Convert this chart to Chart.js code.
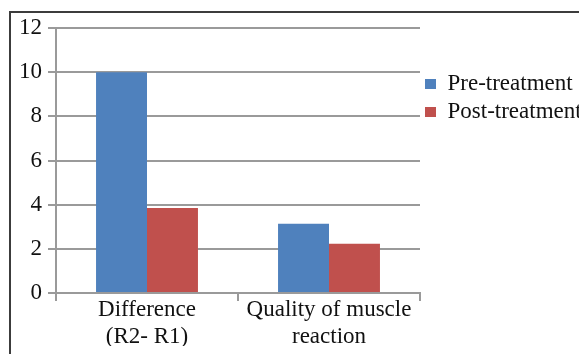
<!DOCTYPE html>
<html>
<head>
<meta charset="utf-8">
<script src="https://cdn.jsdelivr.net/npm/chart.js@4.4.1/dist/chart.umd.min.js"></script>
<style>
  html, body { margin: 0; padding: 0; background: #ffffff; overflow: hidden; width: 579px; height: 354px; }
  #frame { position: absolute; left: 9px; top: 11px; width: 700px; height: 500px;
           border-left: 2px solid #3c3c3c; border-top: 2px solid #3c3c3c; box-sizing: border-box; }
  #c { position: absolute; left: 0; top: 0; }
</style>
</head>
<body>
<div id="frame"></div>
<canvas id="c"></canvas>
<script>
// ---- data ----
const categories = [["Difference", "(R2- R1)"], ["Quality of muscle", "reaction"]];
const seriesNames = ["Pre-treatment", "Post-treatment"];
const preTreatment = [10, 3.14];
const postTreatment = [3.85, 2.23];
const yTicks = [0, 2, 4, 6, 8, 10, 12];

// ---- layout helpers ----
const FONT = '"Liberation Serif", "Times New Roman", serif';
const FS = 23;
const legendPad = 5, boxW = 11;
const mctx = document.createElement('canvas').getContext('2d');
mctx.font = FS + 'px ' + FONT;
const textW = Math.max(...seriesNames.map(s => mctx.measureText(s).width));
const legendW = legendPad * 2 + boxW + FS / 2 + textW + 2;
const plotRight = 420;
const W = Math.ceil(plotRight + legendW) + 2;
const H = 420;
const padBottom = H - 292.5 - 53.4;

const canvas = document.getElementById('c');
canvas.width = W; canvas.height = H;
canvas.style.width = W + 'px'; canvas.style.height = H + 'px';

const gridColor = '#9a9a9a';

new Chart(canvas, {
  type: 'bar',
  data: {
    labels: categories,
    datasets: [
      { label: seriesNames[0], data: preTreatment, backgroundColor: '#4F81BD', borderWidth: 0 },
      { label: seriesNames[1], data: postTreatment, backgroundColor: '#C0504D', borderWidth: 0 }
    ]
  },
  options: {
    responsive: false,
    animation: false,
    devicePixelRatio: 1,
    categoryPercentage: 0.56,
    barPercentage: 1.0,
    layout: { padding: { top: 28, left: 13, right: W - plotRight - legendW, bottom: padBottom } },
    plugins: {
      tooltip: { enabled: false },
      legend: {
        position: 'right',
        align: 'start',
        maxWidth: legendW,
        title: { display: true, text: '', font: { size: 10 }, padding: { top: 27.5, bottom: 0 } },
        labels: {
          boxWidth: boxW,
          boxHeight: 10,
          padding: legendPad,
          color: '#111',
          font: { family: FONT, size: FS }
        }
      }
    },
    scales: {
      x: {
        grid: { offset: true, drawOnChartArea: false, drawTicks: true, tickLength: 8, color: gridColor, lineWidth: 2 },
        border: { display: true, color: gridColor, width: 2 },
        ticks: { color: '#111', padding: -4, maxRotation: 0, font: { family: FONT, size: FS, lineHeight: 1.15 } }
      },
      y: {
        min: 0, max: 12,
        afterBuildTicks: (s) => { s.ticks = yTicks.map(v => ({ value: v })); },
        grid: { color: gridColor, lineWidth: 2, tickLength: 8 },
        border: { display: true, color: gridColor, width: 2 },
        ticks: { color: '#111', padding: 6, font: { family: FONT, size: FS } }
      }
    }
  }
});
</script>
</body>
</html>
